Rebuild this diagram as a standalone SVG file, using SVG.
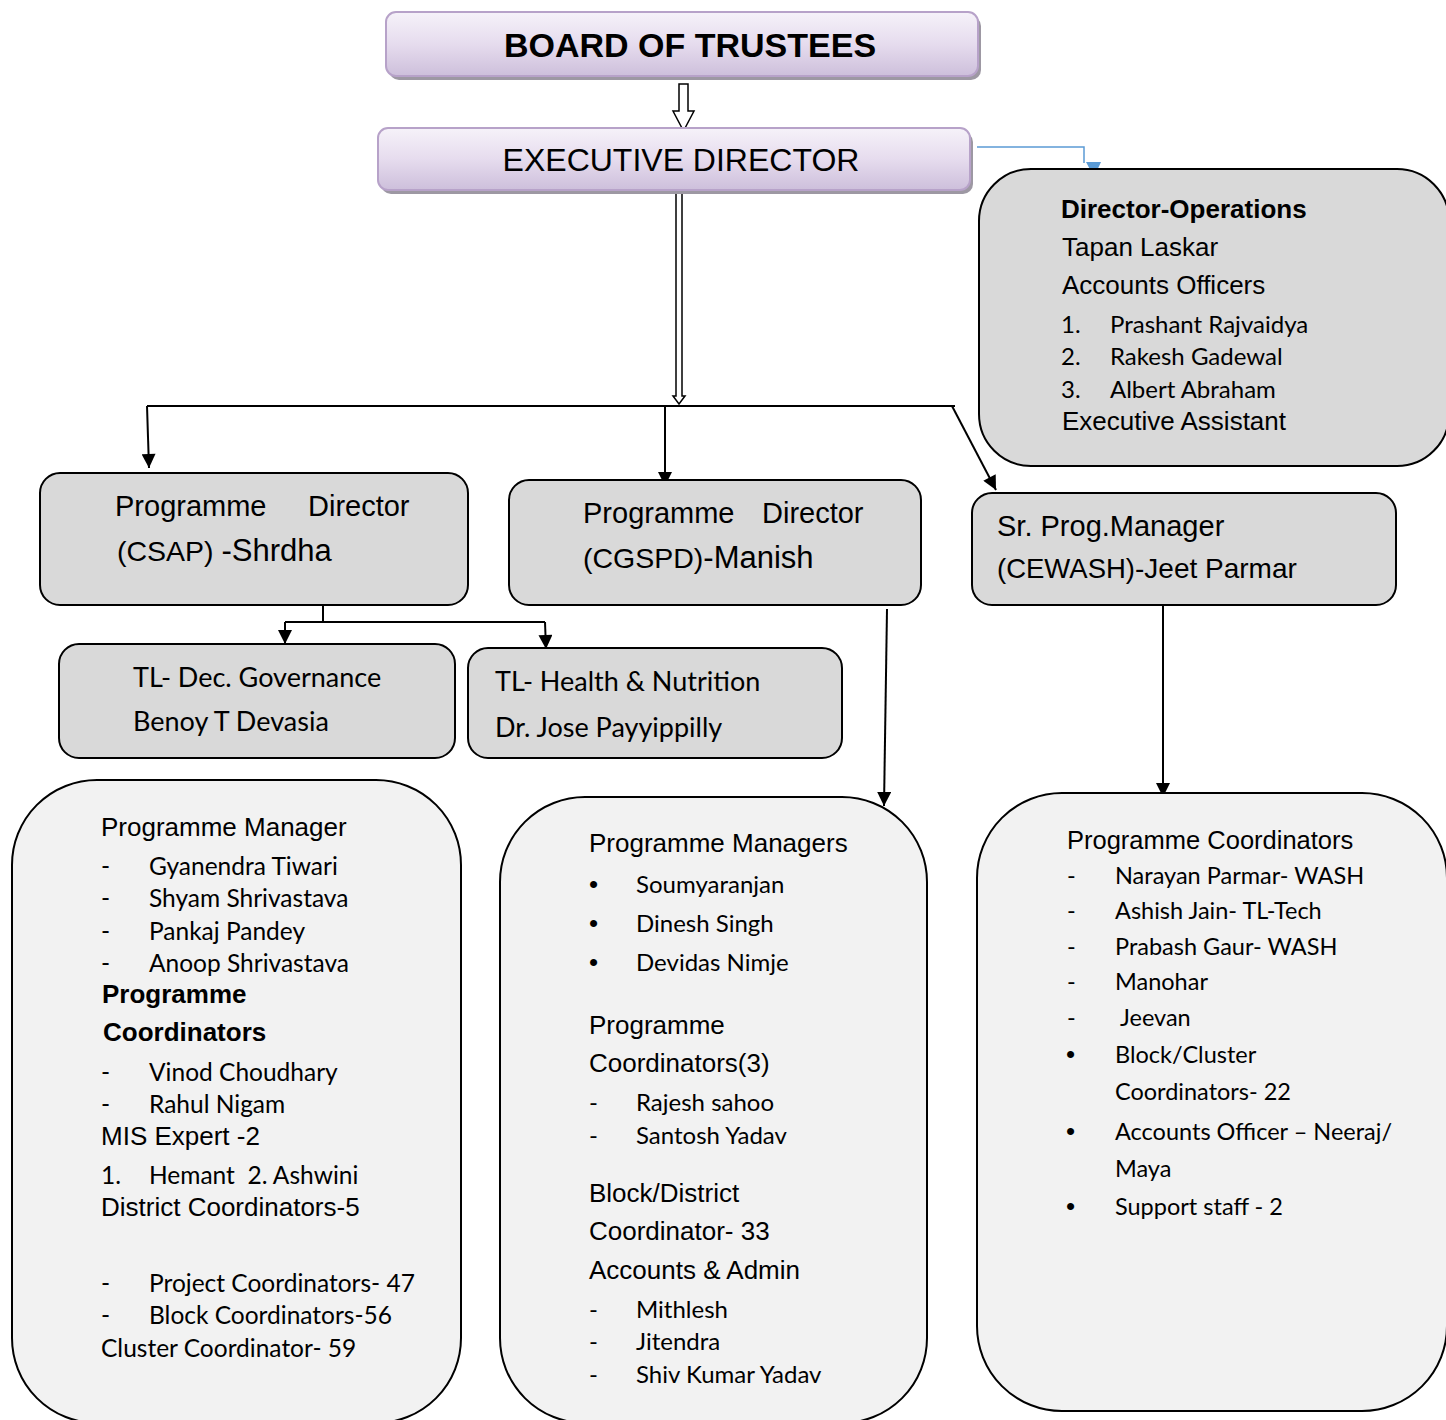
<svg xmlns="http://www.w3.org/2000/svg" width="1446" height="1420" viewBox="0 0 1446 1420">
<defs>
<linearGradient id="lav" x1="0" y1="0" x2="0" y2="1">
<stop offset="0" stop-color="#f6f2f9"/>
<stop offset="0.5" stop-color="#e6dcee"/>
<stop offset="1" stop-color="#cdbfdb"/>
</linearGradient>
<marker id="ah" viewBox="0 0 10 10" refX="10" refY="5" markerUnits="userSpaceOnUse" markerWidth="16" markerHeight="14" orient="auto">
<path d="M0,0 L10,5 L0,10 z" fill="#000"/>
</marker>
<style>
.a{font-family:"Liberation Sans",Arial,sans-serif;fill:#000}
.b{font-family:"Liberation Sans",Arial,sans-serif;font-weight:bold;fill:#000}
.c{font-family:Lato,"Open Sans",sans-serif;fill:#000}
.top{fill:url(#lav);stroke:#b7a2c9;stroke-width:2}
.sh{fill:#9d98a3}
.g{fill:#d9d9d9;stroke:#000;stroke-width:2}
.l{fill:#f2f2f2;stroke:#000;stroke-width:2}
.cn{fill:none;stroke:#000;stroke-width:2}
</style>
</defs>

<g id="connectors">
<polygon points="679,84 688,84 688,111 694,111 683.5,131 673,111 679,111" fill="#fff" stroke="#000" stroke-width="1.5"/>
<polygon points="676,191 682,191 682,396 685,396 679,404 673,396 676,396" fill="#fff" stroke="#000" stroke-width="1.5"/>
<path class="cn" d="M147,406 H955"/>
<path class="cn" d="M147,406 L149,468" marker-end="url(#ah)"/>
<path class="cn" d="M665,406 V486" marker-end="url(#ah)"/>
<path class="cn" d="M952,406 L996,490" marker-end="url(#ah)"/>
<path class="cn" d="M323,605 V622 M285,622 H545"/>
<path class="cn" d="M285,622 V644" marker-end="url(#ah)"/>
<path class="cn" d="M545,622 L546,649" marker-end="url(#ah)"/>
<path class="cn" d="M887,609 L884,806" marker-end="url(#ah)"/>
<path class="cn" d="M1163,605 V797" marker-end="url(#ah)"/>
<path d="M977,147 H1084 V163" fill="none" stroke="#5b9bd5" stroke-width="1.5"/>
<polygon points="1086,162 1101,162 1094,177" fill="#5b9bd5"/>
</g>

<g id="board">
<rect class="sh" x="389" y="16" width="592" height="64" rx="10"/>
<rect class="top" x="386" y="12" width="592" height="64" rx="10"/>
<text class="b" x="690" y="57" font-size="34" text-anchor="middle">BOARD OF TRUSTEES</text>
</g>

<g id="executive-director">
<rect class="sh" x="381" y="132" width="592" height="62" rx="10"/>
<rect class="top" x="378" y="128" width="592" height="62" rx="10"/>
<text class="a" x="681" y="171" font-size="32" text-anchor="middle">EXECUTIVE DIRECTOR</text>
</g>

<g id="director-operations">
<rect class="g" x="979" y="169" width="470" height="297" rx="52"/>
<text class="b" x="1061" y="218" font-size="26">Director-Operations</text>
<text class="a" x="1062" y="256" font-size="26">Tapan Laskar</text>
<text class="a" x="1062" y="294" font-size="26">Accounts Officers</text>
<text class="c" font-size="24"><tspan x="1061" y="333">1.</tspan><tspan x="1110" y="333">Prashant Rajvaidya</tspan><tspan x="1061" y="365">2.</tspan><tspan x="1110" y="365">Rakesh Gadewal</tspan><tspan x="1061" y="398">3.</tspan><tspan x="1110" y="398">Albert Abraham</tspan></text>
<text class="a" x="1062" y="430" font-size="26">Executive Assistant</text>
</g>

<g id="pd-csap">
<rect class="g" x="40" y="473" width="428" height="132" rx="20"/>
<text class="a" x="115" y="516" font-size="29">Programme</text>
<text class="a" x="308" y="516" font-size="29">Director</text>
<text class="a" x="117" y="561"><tspan font-size="28.5">(CSAP) </tspan><tspan font-size="31">-Shrdha</tspan></text>
</g>

<g id="pd-cgspd">
<rect class="g" x="509" y="480" width="412" height="125" rx="20"/>
<text class="a" x="583" y="523" font-size="29">Programme</text>
<text class="a" x="762" y="523" font-size="29">Director</text>
<text class="a" x="583" y="568"><tspan font-size="28.5">(CGSPD)</tspan><tspan font-size="31">-Manish</tspan></text>
</g>

<g id="sr-prog-manager">
<rect class="g" x="972" y="493" width="424" height="112" rx="20"/>
<text class="a" x="997" y="536" font-size="29">Sr. Prog.Manager</text>
<text class="a" x="997" y="578" font-size="28"><tspan font-size="27.5">(CEWASH)</tspan>-Jeet Parmar</text>
</g>

<g id="tl-dec-governance">
<rect class="g" x="59" y="644" width="396" height="114" rx="20"/>
<text class="c" x="133" y="687" font-size="27">TL- Dec. Governance</text>
<text class="c" x="133" y="731" font-size="27">Benoy T Devasia</text>
</g>

<g id="tl-health-nutrition">
<rect class="g" x="468" y="648" width="374" height="110" rx="20"/>
<text class="c" x="495" y="691" font-size="27">TL- Health &amp; Nutrition</text>
<text class="c" x="495" y="737" font-size="27">Dr. Jose Payyippilly</text>
</g>

<g id="csap-staff">
<rect class="l" x="12" y="780" width="449" height="643" rx="85"/>
<text class="a" x="101" y="836" font-size="26">Programme Manager</text>
<text class="c" font-size="24.5">
<tspan x="101" y="875">-</tspan><tspan x="149" y="875">Gyanendra Tiwari</tspan>
<tspan x="101" y="907">-</tspan><tspan x="149" y="907">Shyam Shrivastava</tspan>
<tspan x="101" y="940">-</tspan><tspan x="149" y="940">Pankaj Pandey</tspan>
<tspan x="101" y="972">-</tspan><tspan x="149" y="972">Anoop Shrivastava</tspan>
</text>
<text class="b" x="102" y="1003" font-size="26">Programme</text>
<text class="b" x="103" y="1041" font-size="26">Coordinators</text>
<text class="c" font-size="24.5">
<tspan x="101" y="1081">-</tspan><tspan x="149" y="1081">Vinod Choudhary</tspan>
<tspan x="101" y="1113">-</tspan><tspan x="149" y="1113">Rahul Nigam</tspan>
</text>
<text class="a" x="101" y="1145" font-size="26">MIS Expert -2</text>
<text class="c" font-size="24.5"><tspan x="101" y="1184">1.</tspan><tspan x="149" y="1184">Hemant &#160;2. Ashwini</tspan></text>
<text class="a" x="101" y="1216" font-size="26">District Coordinators-5</text>
<text class="c" font-size="24.5">
<tspan x="101" y="1292">-</tspan><tspan x="149" y="1292">Project Coordinators- 47</tspan>
<tspan x="101" y="1324">-</tspan><tspan x="149" y="1324">Block Coordinators-56</tspan>
<tspan x="101" y="1357">Cluster Coordinator- 59</tspan>
</text>
</g>

<g id="cgspd-staff">
<rect class="l" x="500" y="797" width="427" height="626" rx="85"/>
<text class="a" x="589" y="852" font-size="26">Programme Managers</text>
<text class="a" font-size="26">
<tspan x="589" y="893">•</tspan><tspan x="589" y="932">•</tspan><tspan x="589" y="971">•</tspan>
</text>
<text class="c" font-size="24">
<tspan x="636" y="893">Soumyaranjan</tspan>
<tspan x="636" y="932">Dinesh Singh</tspan>
<tspan x="636" y="971">Devidas Nimje</tspan>
</text>
<text class="a" x="589" y="1034" font-size="26">Programme</text>
<text class="a" x="589" y="1072" font-size="26">Coordinators(3)</text>
<text class="c" font-size="24">
<tspan x="589" y="1111">-</tspan><tspan x="636" y="1111">Rajesh sahoo</tspan>
<tspan x="589" y="1144">-</tspan><tspan x="636" y="1144">Santosh Yadav</tspan>
</text>
<text class="a" x="589" y="1202" font-size="26">Block/District</text>
<text class="a" x="589" y="1240" font-size="26">Coordinator- 33</text>
<text class="a" x="589" y="1279" font-size="26">Accounts &amp; Admin</text>
<text class="c" font-size="24">
<tspan x="589" y="1318">-</tspan><tspan x="636" y="1318">Mithlesh</tspan>
<tspan x="589" y="1350">-</tspan><tspan x="636" y="1350">Jitendra</tspan>
<tspan x="589" y="1383">-</tspan><tspan x="636" y="1383">Shiv Kumar Yadav</tspan>
</text>
</g>

<g id="cewash-staff">
<rect class="l" x="977" y="793" width="470" height="618" rx="85"/>
<text class="a" x="1067" y="849" font-size="25.5">Programme Coordinators</text>
<text class="c" font-size="23.5">
<tspan x="1067" y="884">-</tspan><tspan x="1115" y="884">Narayan Parmar- WASH</tspan>
<tspan x="1067" y="919">-</tspan><tspan x="1115" y="919">Ashish Jain- TL-Tech</tspan>
<tspan x="1067" y="955">-</tspan><tspan x="1115" y="955">Prabash Gaur- WASH</tspan>
<tspan x="1067" y="990">-</tspan><tspan x="1115" y="990">Manohar</tspan>
<tspan x="1067" y="1026">-</tspan><tspan x="1120" y="1026">Jeevan</tspan>
<tspan x="1115" y="1063">Block/Cluster</tspan>
<tspan x="1115" y="1100">Coordinators- 22</tspan>
<tspan x="1115" y="1140">Accounts Officer – Neeraj/</tspan>
<tspan x="1115" y="1177">Maya</tspan>
<tspan x="1115" y="1215">Support staff - 2</tspan>
</text>
<text class="a" font-size="26">
<tspan x="1066" y="1063">•</tspan><tspan x="1066" y="1140">•</tspan><tspan x="1066" y="1215">•</tspan>
</text>
</g>
</svg>
